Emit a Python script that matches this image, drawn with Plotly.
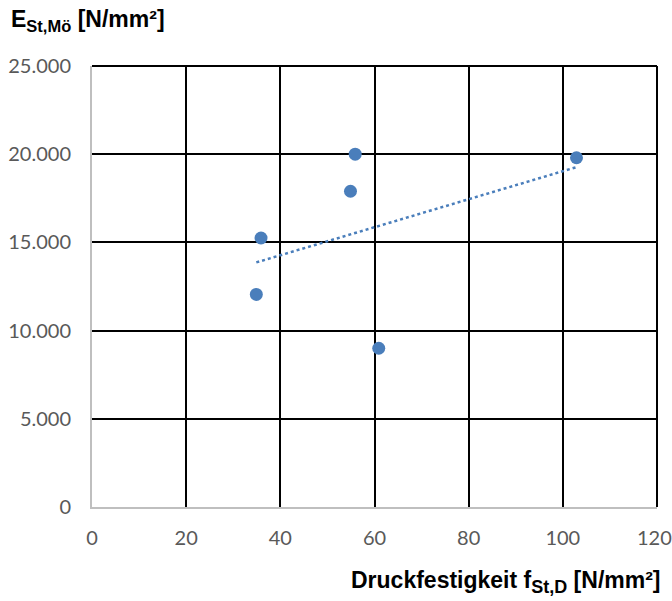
import numpy as np
import plotly.graph_objects as go

# Data
druckfestigkeit = [34.9, 35.9, 54.9, 55.9, 60.9, 102.9]          # f_St,D [N/mm²]
e_modul = [12050, 15250, 17900, 20000, 9000, 19800]             # E_St,Mö [N/mm²]

x_ticks = [0, 20, 40, 60, 80, 100, 120]
y_ticks = [0, 5000, 10000, 15000, 20000, 25000]

blue = "#4a7ebb"
grid = "#000000"
axis_grey = "#bfbfbf"
tick_grey = "#595959"

# Linear trendline computed from the data (like Excel's linear trendline)
slope, intercept = np.polyfit(druckfestigkeit, e_modul, 1)
tx = np.array([min(druckfestigkeit), max(druckfestigkeit)])
ty = slope * tx + intercept

fig = go.Figure()
fig.add_trace(go.Scatter(
    x=tx, y=ty, mode="lines",
    line=dict(color=blue, width=2.5, dash="dot"),
    hoverinfo="skip", showlegend=False,
))
fig.add_trace(go.Scatter(
    x=druckfestigkeit, y=e_modul, mode="markers",
    marker=dict(color=blue, size=13, line=dict(width=0)),
    showlegend=False,
))

tickfont = dict(family="Lato", size=20, color=tick_grey)

# last x tick label is drawn as an annotation nudged inward so it fits in the page
x_ticktext = [str(v) for v in x_ticks[:-1]] + [""]

fig.update_layout(
    width=672, height=601,
    margin=dict(l=92, r=15, t=66, b=94),
    paper_bgcolor="white", plot_bgcolor="white",
    separators=",.",
    font=dict(family="Lato", size=20, color=tick_grey),
    xaxis=dict(
        range=[0, 120], tickvals=x_ticks, ticktext=x_ticktext,
        ticks="outside", ticklen=12, tickcolor="rgba(0,0,0,0)",
        showgrid=True, gridcolor=grid, gridwidth=2,
        showline=True, linecolor=axis_grey, linewidth=2,
        zeroline=False, automargin=False, ticklabeloverflow="allow",
        tickfont=tickfont,
    ),
    yaxis=dict(
        range=[0, 25000], tickvals=y_ticks, tickformat=",d",
        ticks="outside", ticklen=15, tickcolor="rgba(0,0,0,0)",
        showgrid=True, gridcolor=grid, gridwidth=2,
        showline=True, linecolor=axis_grey, linewidth=2,
        zeroline=False, automargin=False, ticklabeloverflow="allow",
        tickfont=tickfont,
    ),
    shapes=[
        dict(type="line", xref="paper", yref="paper", x0=0, x1=1, y0=1, y1=1,
             line=dict(color=grid, width=2)),
        dict(type="line", xref="paper", yref="paper", x0=1, x1=1, y0=0, y1=1,
             line=dict(color=grid, width=2)),
    ],
    annotations=[
        dict(text=str(x_ticks[-1]), xref="x", yref="paper",
             x=x_ticks[-1], y=0, xanchor="center", yanchor="middle",
             xshift=-3, yshift=-30, showarrow=False, font=tickfont),
        dict(text="E<sub><span style='font-size:16.5px'>St,Mö</span></sub> [N/mm²]",
             xref="paper", yref="paper",
             x=0, y=1, xanchor="left", yanchor="middle", xshift=-83, yshift=46,
             showarrow=False,
             font=dict(family="Liberation Sans", size=23, color="black", weight="bold")),
        dict(text="Druckfestigkeit f<sub><span style='font-size:18px'>St,D</span></sub> [N/mm²]",
             xref="paper", yref="paper",
             x=1, y=0, xanchor="right", yanchor="middle", xshift=6, yshift=-75,
             showarrow=False,
             font=dict(family="Liberation Sans", size=23, color="black", weight="bold")),
    ],
)

fig.write_html("out.html")
